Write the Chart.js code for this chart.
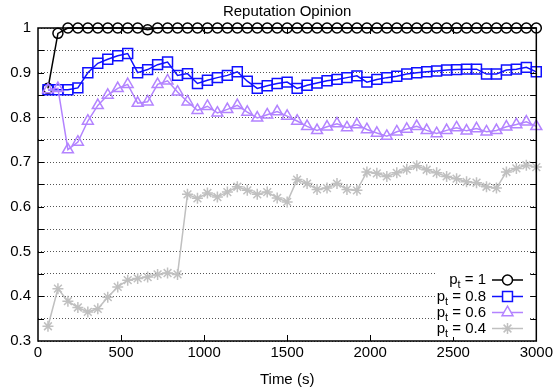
<!DOCTYPE html>
<html>
<head>
<meta charset="utf-8">
<script src="https://cdn.jsdelivr.net/npm/chart.js@4/dist/chart.umd.min.js"></script>
<style>
  html, body { margin: 0; padding: 0; background: #fff; }
  #wrap { width: 556px; height: 392px; }
</style>
</head>
<body>
<div id="wrap"><canvas id="chart"></canvas></div>
<script>
const times = [60, 120, 180, 240, 300, 360, 420, 480, 540, 600,
  660, 720, 780, 840, 900, 960, 1020, 1080, 1140, 1200,
  1260, 1320, 1380, 1440, 1500, 1560, 1620, 1680, 1740, 1800,
  1860, 1920, 1980, 2040, 2100, 2160, 2220, 2280, 2340, 2400,
  2460, 2520, 2580, 2640, 2700, 2760, 2820, 2880, 2940, 3000];

const pt10 = [0.865, 0.988, 1, 1, 1, 1, 1, 1, 1, 1,
  0.996, 1, 1, 1, 1, 1, 1, 1, 1, 1,
  1, 1, 1, 1, 1, 1, 1, 1, 1, 1,
  1, 1, 1, 1, 1, 1, 1, 1, 1, 1,
  1, 1, 1, 1, 1, 1, 1, 1, 1, 1];

const pt08 = [0.862, 0.862, 0.862, 0.866, 0.900, 0.921, 0.930, 0.938, 0.943, 0.900,
  0.907, 0.918, 0.924, 0.894, 0.898, 0.876, 0.883, 0.889, 0.894, 0.902,
  0.881, 0.865, 0.871, 0.876, 0.879, 0.865, 0.872, 0.877, 0.882, 0.885,
  0.889, 0.893, 0.879, 0.885, 0.889, 0.892, 0.897, 0.900, 0.902, 0.904,
  0.906, 0.907, 0.908, 0.908, 0.897, 0.897, 0.906, 0.908, 0.912, 0.902];

const pt06 = [0.862, 0.865, 0.728, 0.745, 0.792, 0.827, 0.850, 0.865, 0.874, 0.832,
  0.835, 0.874, 0.882, 0.857, 0.835, 0.816, 0.825, 0.810, 0.818, 0.827,
  0.812, 0.799, 0.806, 0.813, 0.803, 0.792, 0.780, 0.771, 0.779, 0.786,
  0.777, 0.784, 0.773, 0.765, 0.758, 0.768, 0.774, 0.780, 0.771, 0.764,
  0.771, 0.777, 0.770, 0.775, 0.768, 0.771, 0.779, 0.784, 0.790, 0.780];

const pt04 = [0.333, 0.417, 0.389, 0.375, 0.365, 0.372, 0.398, 0.421, 0.436, 0.440,
  0.443, 0.449, 0.452, 0.449, 0.628, 0.619, 0.631, 0.622, 0.633, 0.645,
  0.637, 0.628, 0.633, 0.620, 0.611, 0.661, 0.652, 0.639, 0.642, 0.652,
  0.639, 0.637, 0.678, 0.675, 0.668, 0.676, 0.684, 0.692, 0.683, 0.676,
  0.668, 0.663, 0.656, 0.654, 0.645, 0.642, 0.678, 0.686, 0.693, 0.689];

const seriesLabels = ['1', '0.8', '0.6', '0.4'];
const seriesValues = [pt10, pt08, pt06, pt04];
const seriesColors = ['#000000', '#1010ff', '#b383ff', '#c0c0c0'];
const seriesMarkers = ['circle', 'rect', 'triangle', 'star'];
const markerSizes = [5, 7, 6.3, 5.5];

const xTicks = [0, 500, 1000, 1500, 2000, 2500, 3000];
const chartTitle = 'Reputation Opinion';

const FONT = '"Liberation Sans", Arial, sans-serif';

const toPoints = (values) => values.map((v, i) => ({ x: times[i], y: v }));

// title centred over the plot area, like gnuplot does
const titlePlugin = {
  id: 'plotTitle',
  afterDraw(chart) {
    const { ctx, chartArea: a } = chart;
    ctx.save();
    ctx.font = '15px ' + FONT;
    ctx.fillStyle = '#000';
    ctx.textAlign = 'center';
    ctx.textBaseline = 'middle';
    ctx.fillText(chartTitle, (a.left + a.right) / 2, 12);
    ctx.restore();
  }
};

// gnuplot style frame with inward ticks on all four sides
const framePlugin = {
  id: 'frame',
  afterDatasetsDraw(chart) {
    const { ctx, chartArea: a, scales } = chart;
    ctx.save();
    ctx.strokeStyle = '#000';
    ctx.lineWidth = 1;
    ctx.beginPath();
    for (let v = 0.35; v < 0.999; v += 0.05) {
      const y = Math.round(scales.y.getPixelForValue(v)) + 0.5;
      ctx.moveTo(a.left, y); ctx.lineTo(a.left + 6, y);
      ctx.moveTo(a.right, y); ctx.lineTo(a.right - 6, y);
    }
    xTicks.slice(1, -1).forEach((t) => {
      const x = Math.round(scales.x.getPixelForValue(t)) + 0.5;
      ctx.moveTo(x, a.bottom); ctx.lineTo(x, a.bottom - 6);
      ctx.moveTo(x, a.top); ctx.lineTo(x, a.top + 6);
    });
    ctx.stroke();
    ctx.lineWidth = 1.5;
    ctx.strokeRect(a.left, a.top, a.right - a.left, a.bottom - a.top);
    ctx.restore();
  }
};

// legend with subscripts, bottom right inside the plot
const legendPlugin = {
  id: 'ptLegend',
  afterDraw(chart) {
    const { ctx } = chart;
    const textRight = 486;
    const lineL = 492, lineR = 523, markX = 507.5;
    const rowY = [280, 296.5, 312.5, 328.5];
    ctx.save();
    ctx.fillStyle = '#fff';
    ctx.fillRect(436, 270, 94, 67);
    ctx.textBaseline = 'middle';
    seriesLabels.forEach((lab, i) => {
      const y = rowY[i];
      const big = '15px ' + FONT, small = '11px ' + FONT;
      ctx.font = big;
      const rest = ' = ' + lab;
      const wRest = ctx.measureText(rest).width;
      const wP = ctx.measureText('p').width;
      ctx.font = small;
      const wT = ctx.measureText('t').width;
      const x = textRight - wRest - wT - wP;
      ctx.fillStyle = '#000';
      ctx.textAlign = 'left';
      ctx.font = big;
      ctx.fillText('p', x, y);
      ctx.font = small;
      ctx.fillText('t', x + wP, y + 5);
      ctx.font = big;
      ctx.fillText(rest, x + wP + wT, y);

      ctx.strokeStyle = seriesColors[i];
      ctx.lineWidth = 1.5;
      ctx.beginPath();
      ctx.moveTo(lineL, y); ctx.lineTo(lineR, y);
      ctx.stroke();
      ctx.fillStyle = '#fff';
      Chart.helpers.drawPoint(ctx, {
        pointStyle: seriesMarkers[i], radius: markerSizes[i], rotation: 0, borderWidth: 1.5
      }, markX, y);
    });
    ctx.restore();
  }
};

const datasets = seriesLabels.map((lab, i) => ({
  label: 'p_t = ' + lab,
  data: toPoints(seriesValues[i]),
  borderColor: seriesColors[i],
  backgroundColor: 'rgba(255,255,255,0)',
  borderWidth: 1.5,
  pointStyle: seriesMarkers[i],
  pointRadius: markerSizes[i],
  pointBorderWidth: 1.5,
  pointBorderColor: seriesColors[i],
  pointBackgroundColor: 'rgba(255,255,255,0)',
  tension: 0,
  clip: false,
  order: 3 - i
}));

new Chart(document.getElementById('chart'), {
  type: 'line',
  data: { datasets },
  options: {
    responsive: true,
    maintainAspectRatio: false,
    animation: false,
    devicePixelRatio: 1,
    layout: { padding: { left: 0, right: 18, top: 28, bottom: 0 } },
    plugins: {
      legend: { display: false },
      tooltip: { enabled: false },
      title: { display: false }
    },
    scales: {
      x: {
        type: 'linear',
        min: 0,
        max: 3000,
        afterBuildTicks: (scale) => { scale.ticks = xTicks.map((v) => ({ value: v })); },
        afterFit: (scale) => { scale.height = 51; },
        grid: { display: false, drawTicks: false },
        border: { display: false },
        ticks: {
          color: '#000',
          padding: 3,
          maxRotation: 0,
          font: { family: FONT, size: 15 },
          callback: (v) => String(v)
        },
        title: {
          display: true,
          text: 'Time (s)',
          color: '#000',
          font: { family: FONT, size: 15 },
          padding: { top: 0, bottom: 3 }
        }
      },
      y: {
        min: 0.3,
        max: 1,
        afterFit: (scale) => { scale.width = 38; },
        grid: {
          color: '#555',
          lineWidth: 1,
          drawTicks: false
        },
        border: { display: false, dash: [1, 2] },
        ticks: {
          stepSize: 0.05,
          color: '#000',
          padding: 7,
          autoSkip: false,
          font: { family: FONT, size: 15 },
          callback: (v) => {
            const c = Math.round(v * 100);
            if (c % 10 !== 0) return '';
            return c === 100 ? '1' : (c / 100).toFixed(1);
          }
        }
      }
    }
  },
  plugins: [framePlugin, legendPlugin, titlePlugin]
});
</script>
</body>
</html>
